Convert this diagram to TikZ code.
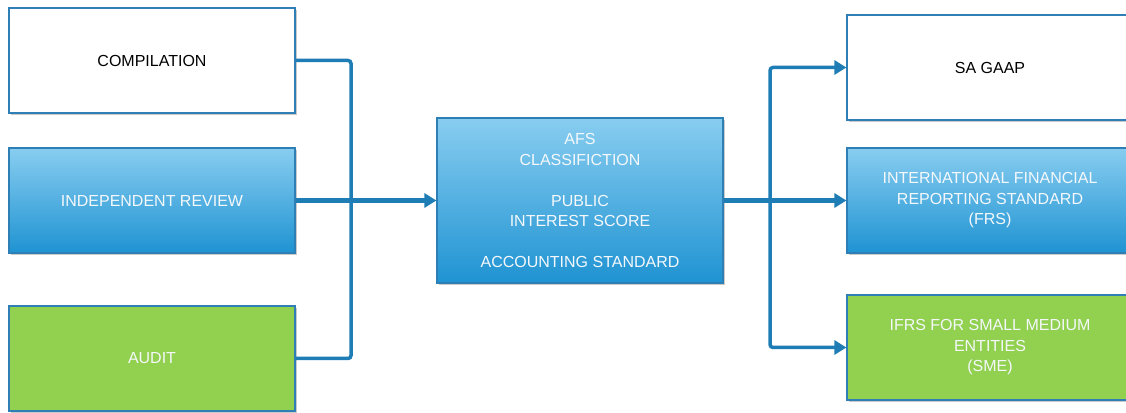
\documentclass[tikz,border=0pt]{standalone}
\usepackage{fontspec}
\setmainfont{Liberation Sans}
\usetikzlibrary{arrows.meta,shadows}

\definecolor{edgeblue}{HTML}{2F7FB7}
\definecolor{linkblue}{HTML}{1F7DB5}
\definecolor{skytop}{HTML}{88CDF0}
\definecolor{skybottom}{HTML}{1F93D2}
\definecolor{leaf}{HTML}{92D050}
\definecolor{paletext}{HTML}{F4F8FB}

\tikzset{
  card/.style={draw=edgeblue, line width=1.2pt, minimum width=286pt,
    minimum height=105pt, inner sep=0pt, align=center,
    font=\fontsize{16}{20.5}\selectfont,
    drop shadow={shadow xshift=1.5pt, shadow yshift=-2pt, opacity=0.35, fill=black!60}},
  plaincard/.style={card, fill=white, text=black},
  bluecard/.style={card, top color=skytop, bottom color=skybottom, text=paletext},
  greencard/.style={card, fill=leaf, text=paletext},
  branch/.style={draw=linkblue, line width=3.5pt, rounded corners=3pt},
  trunk/.style={draw=linkblue, line width=5pt},
  tip/.style={-{Triangle[length=12pt, width=14pt]}}
}

\begin{document}
\begin{tikzpicture}[x=1pt, y=1pt]
  \useasboundingbox (0,0) rectangle (1126,412);

  % engagement types
  \node[plaincard] (comp)  at (152,351.5) {COMPILATION};
  \node[bluecard]  (ir)    at (152,211.5) {INDEPENDENT REVIEW};
  \node[greencard] (audit) at (152,53.5)  {AUDIT};

  % classification block
  \node[bluecard, minimum height=165pt] (afs) at (580,211.5)
    {AFS\\CLASSIFICTION\\[20.5pt]PUBLIC\\INTEREST SCORE\\[20.5pt]ACCOUNTING STANDARD};

  % reporting frameworks
  \node[plaincard] (gaap) at (990,344.5) {SA GAAP};
  \node[bluecard]  (frs)  at (990,211.5) {INTERNATIONAL FINANCIAL\\REPORTING STANDARD\\(FRS)};
  \node[greencard] (sme)  at (990,64.5)  {IFRS FOR SMALL MEDIUM\\ENTITIES\\(SME)};

  \coordinate (jl) at (351,211.5);
  \coordinate (jr) at (770,211.5);

  % left collector
  \draw[branch] (comp.east) -| (jl);
  \draw[branch] (audit.east) -| (jl);
  \draw[trunk, tip] (ir.east) -- (afs.west);

  % right distributor
  \draw[trunk, tip] (afs.east) -- (frs.west);
  \draw[branch, tip] (jr) |- (gaap.west);
  \draw[branch, tip] (jr) |- (sme.west);
\end{tikzpicture}
\end{document}
